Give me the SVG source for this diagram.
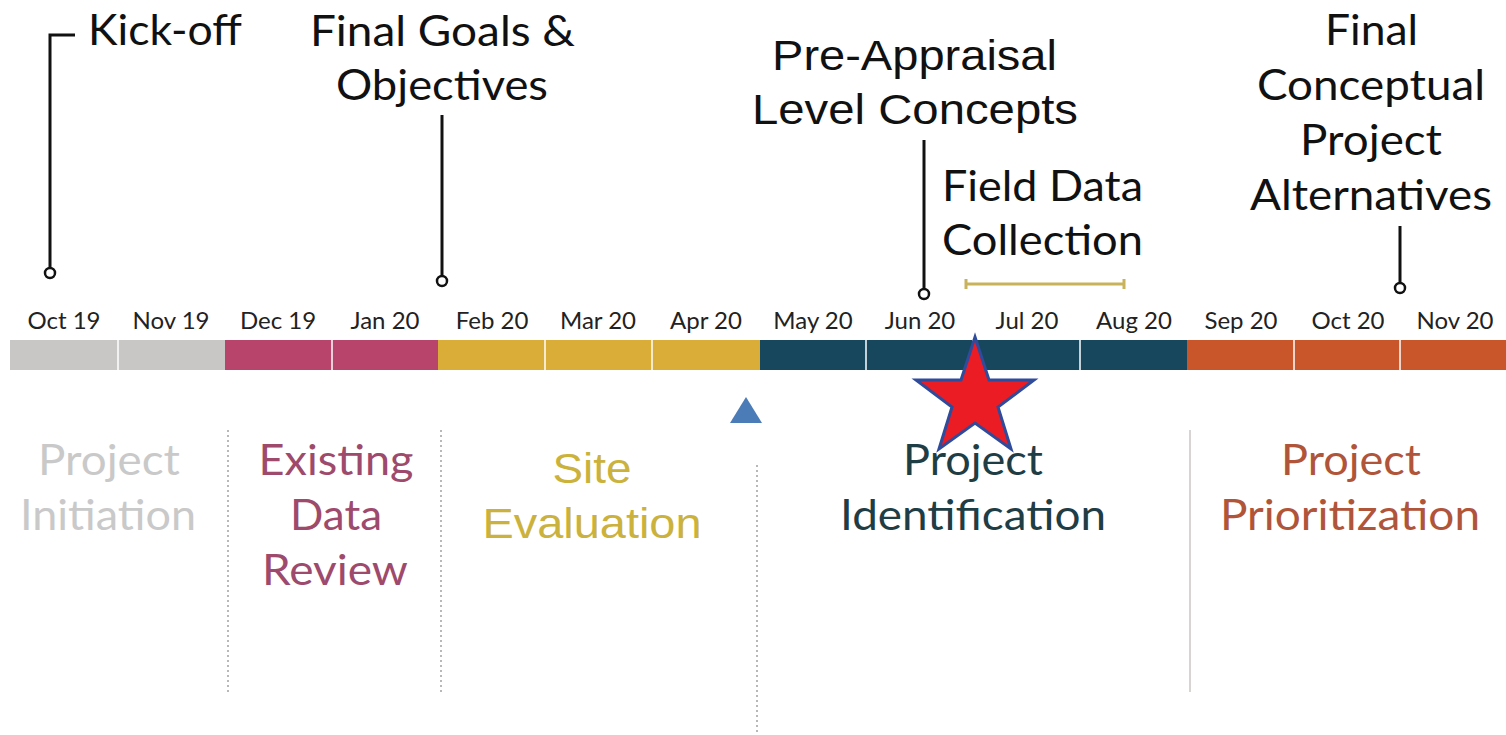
<svg xmlns="http://www.w3.org/2000/svg" width="1506" height="735" viewBox="0 0 1506 735">
<style>
.lato{font-family:Lato,"Open Sans","Liberation Sans",sans-serif}
.arial{font-family:"Liberation Sans",Arial,sans-serif}
.ms{font-size:42px;fill:#111}
.mon{font-size:24px;fill:#222;text-anchor:middle}
.ph{font-size:43px;text-anchor:middle}
.lead{stroke:#111;stroke-width:3;fill:none}
.dot{fill:#fff;stroke:#111;stroke-width:2.5}
.div{stroke:#b8b8b8;stroke-width:2;stroke-dasharray:2 3}
.sep{stroke:#fff;stroke-width:1.5}
</style>
<rect width="1506" height="735" fill="#fff"/>
<g id="timeline-bar">
<rect x="10" y="340" width="215" height="30" fill="#c9c7c6"/>
<rect x="225" y="340" width="213" height="30" fill="#b8436b"/>
<rect x="438" y="340" width="322" height="30" fill="#d9ad38"/>
<rect x="760" y="340" width="427" height="30" fill="#17475c"/>
<rect x="1187" y="340" width="319" height="30" fill="#c9552a"/>
<line class="sep" x1="118" y1="340" x2="118" y2="370"/>
<line class="sep" x1="332" y1="340" x2="332" y2="370"/>
<line class="sep" x1="545" y1="340" x2="545" y2="370"/>
<line class="sep" x1="652" y1="340" x2="652" y2="370"/>
<line class="sep" x1="866" y1="340" x2="866" y2="370"/>
<line class="sep" x1="973" y1="340" x2="973" y2="370"/>
<line class="sep" x1="1080" y1="340" x2="1080" y2="370"/>
<line class="sep" x1="1294" y1="340" x2="1294" y2="370"/>
<line class="sep" x1="1400" y1="340" x2="1400" y2="370"/>
</g>
<g id="months" class="lato mon">
<text x="64" y="329">Oct 19</text>
<text x="171" y="329">Nov 19</text>
<text x="278" y="329">Dec 19</text>
<text x="385" y="329">Jan 20</text>
<text x="492" y="329">Feb 20</text>
<text x="598" y="329">Mar 20</text>
<text x="706" y="329">Apr 20</text>
<text x="813" y="329">May 20</text>
<text x="920" y="329">Jun 20</text>
<text x="1027" y="329">Jul 20</text>
<text x="1134" y="329">Aug 20</text>
<text x="1241" y="329">Sep 20</text>
<text x="1348" y="329">Oct 20</text>
<text x="1455" y="329">Nov 20</text>
</g>
<g id="connectors">
<polyline class="lead" points="50,268 50,35 75,35"/>
<line class="lead" x1="442" y1="115" x2="442" y2="276"/>
<line class="lead" x1="924" y1="140" x2="924" y2="289"/>
<line class="lead" x1="1400" y1="226" x2="1400" y2="283"/>
<g stroke="#c9b35a" stroke-width="3">
<line x1="966" y1="284" x2="1124" y2="284"/>
<line x1="966" y1="279" x2="966" y2="289"/>
<line x1="1124" y1="279" x2="1124" y2="289"/>
</g>
</g>
<g id="kickoff">
<circle class="dot" cx="50" cy="273" r="5"/>
<text class="lato ms" x="88" y="45" textLength="154" lengthAdjust="spacingAndGlyphs">Kick-off</text>
</g>
<g id="final-goals">
<circle class="dot" cx="442" cy="281" r="5"/>
<text class="lato ms" x="310" y="46" textLength="265" lengthAdjust="spacingAndGlyphs">Final Goals &amp;</text>
<text class="lato ms" x="336" y="100" textLength="212" lengthAdjust="spacingAndGlyphs">Objectives</text>
</g>
<g id="pre-appraisal">
<circle class="dot" cx="924" cy="294" r="5"/>
<text class="arial ms" x="772" y="70" textLength="285" lengthAdjust="spacingAndGlyphs">Pre-Appraisal</text>
<text class="arial ms" x="752" y="124" textLength="326" lengthAdjust="spacingAndGlyphs">Level Concepts</text>
</g>
<g id="field-data">
<text class="lato ms" x="942" y="201" textLength="201" lengthAdjust="spacingAndGlyphs">Field Data</text>
<text class="lato ms" x="942" y="255" textLength="201" lengthAdjust="spacingAndGlyphs">Collection</text>
</g>
<g id="final-conceptual">
<circle class="dot" cx="1400" cy="288" r="5"/>
<text class="lato ms" x="1325" y="45" textLength="93" lengthAdjust="spacingAndGlyphs">Final</text>
<text class="lato ms" x="1257" y="100" textLength="228" lengthAdjust="spacingAndGlyphs">Conceptual</text>
<text class="lato ms" x="1300" y="155" textLength="142" lengthAdjust="spacingAndGlyphs">Project</text>
<text class="lato ms" x="1250" y="210" textLength="242" lengthAdjust="spacingAndGlyphs">Alternatives</text>
</g>
<g id="dividers">
<line class="div" x1="228" y1="430" x2="228" y2="692"/>
<line class="div" x1="441" y1="430" x2="441" y2="692"/>
<line class="div" x1="757" y1="465" x2="757" y2="735"/>
<line x1="1190" y1="430" x2="1190" y2="692" stroke="#d8d4d2" stroke-width="2"/>
</g>
<g id="phase-initiation">
<text class="lato ph" x="109" y="475" fill="#c9c9c9" textLength="142" lengthAdjust="spacingAndGlyphs">Project</text>
<text class="lato ph" x="108" y="530" fill="#c9c9c9" textLength="176" lengthAdjust="spacingAndGlyphs">Initiation</text>
</g>
<g id="phase-existing">
<text class="lato ph" x="336" y="475" fill="#9e4a6c" textLength="155" lengthAdjust="spacingAndGlyphs">Existing</text>
<text class="lato ph" x="336" y="530" fill="#9e4a6c" textLength="92" lengthAdjust="spacingAndGlyphs">Data</text>
<text class="lato ph" x="335" y="585" fill="#9e4a6c" textLength="146" lengthAdjust="spacingAndGlyphs">Review</text>
</g>
<g id="phase-site">
<text class="arial ph" x="592" y="483" fill="#cbb23c" textLength="79" lengthAdjust="spacingAndGlyphs">Site</text>
<text class="arial ph" x="592" y="538" fill="#cbb23c" textLength="219" lengthAdjust="spacingAndGlyphs">Evaluation</text>
</g>
<g id="phase-identification">
<text class="lato ph" x="973" y="475" fill="#1f3d45" textLength="140" lengthAdjust="spacingAndGlyphs">Project</text>
<text class="lato ph" x="973" y="530" fill="#1f3d45" textLength="266" lengthAdjust="spacingAndGlyphs">Identification</text>
</g>
<g id="phase-prioritization">
<text class="lato ph" x="1351" y="475" fill="#b0553a" textLength="140" lengthAdjust="spacingAndGlyphs">Project</text>
<text class="lato ph" x="1350" y="530" fill="#b0553a" textLength="260" lengthAdjust="spacingAndGlyphs">Prioritization</text>
</g>
<g id="current-marker">
<polygon points="746,397 762,423 730,423" fill="#4c7cb8"/>
</g>
<g id="star">
<polygon points="975,337 989,380 1034,380 998,407 1011,449 975,423 939,449 952,407 916,380 961,380" fill="#ec1c24" stroke="#2f4b9b" stroke-width="3"/>
</g>
</svg>
